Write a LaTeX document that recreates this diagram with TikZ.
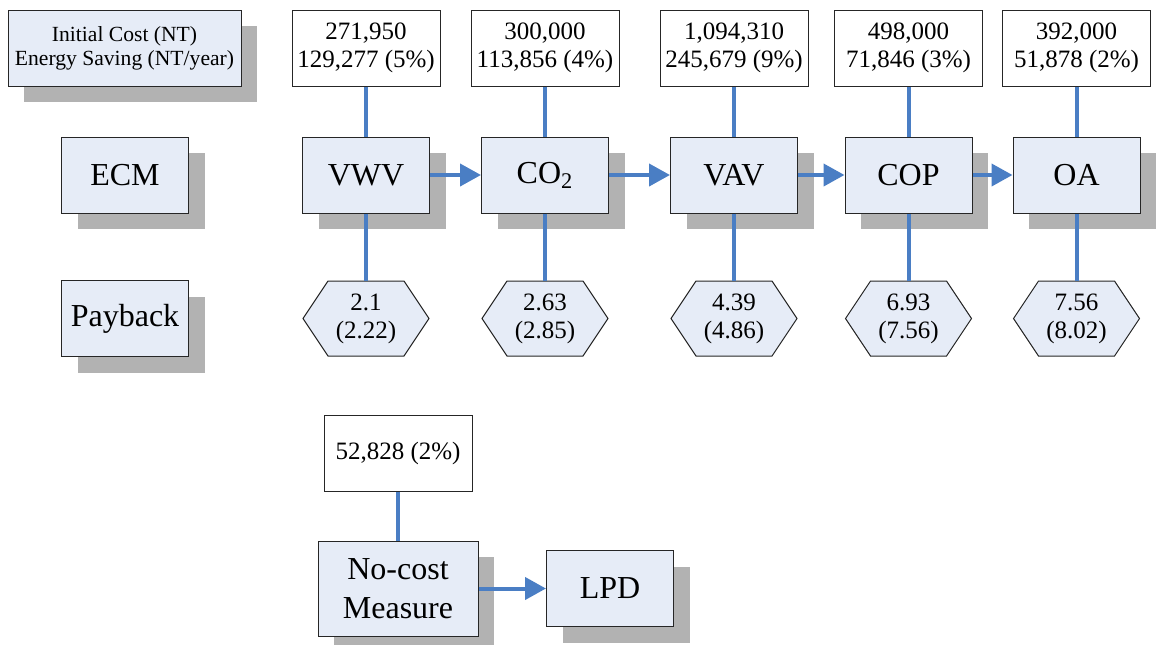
\documentclass[tikz,border=0pt]{standalone}
\usepackage{fontspec}
\setmainfont{Liberation Serif}
\usetikzlibrary{arrows.meta,shadows,calc}
\definecolor{boxfill}{RGB}{230,236,247}
\definecolor{shgray}{RGB}{178,178,178}
\definecolor{linkblue}{RGB}{74,126,196}
\begin{document}
\begin{tikzpicture}[x=0.5pt,y=-0.5pt,
  shbox/.style={draw=black!85,line width=0.5pt,fill=boxfill,inner sep=0pt,align=center,
    drop shadow={shadow xshift=8pt,shadow yshift=-8pt,fill=shgray,draw=none,opacity=1}},
  bigbox/.style={shbox,minimum width=63.5pt,minimum height=38pt,font=\fontsize{16}{19.5}\selectfont},
  numbox/.style={draw=black!85,line width=0.5pt,fill=white,inner sep=0pt,align=center,
    minimum width=74pt,minimum height=38pt,font=\fontsize{12.5}{14}\selectfont},
  hexlabel/.style={inner sep=0pt,align=center,font=\fontsize{12.5}{14}\selectfont},
  hexshape/.style={draw=black!85,line width=0.5pt,fill=boxfill},
  link/.style={draw=linkblue,line width=2pt},
  flow/.style={link,-{Triangle[length=10.5pt,width=11pt]}}
]
\useasboundingbox (0,0) rectangle (1156,644);

% header column
\node[shbox,minimum width=116.5pt,minimum height=38pt,font=\fontsize{10.8}{12}\selectfont] (hdr) at (124.5,48) {Initial Cost (NT)\\Energy Saving (NT/year)};
\node[bigbox] (ecm) at (125,175) {ECM};
\node[bigbox] (pay) at (125,318.5) {Payback};

% columns
\foreach \i/\x/\cost/\save/\name/\pa/\pb in {
  1/366/{271,950}/{129,277 (5\%)}/VWV/2.1/(2.22),
  2/545/{300,000}/{113,856 (4\%)}/{CO\textsubscript{2}}/2.63/(2.85),
  3/734/{1,094,310}/{245,679 (9\%)}/VAV/4.39/(4.86),
  4/908.5/{498,000}/{71,846 (3\%)}/COP/6.93/(7.56),
  5/1076.5/{392,000}/{51,878 (2\%)}/OA/7.56/(8.02)} {
  \node[numbox] (t\i) at (\x,48) {\cost\\\save};
  \node[bigbox] (e\i) at (\x,175) {\name};
  \draw[hexshape] (\x-63,318.5) -- (\x-38,281) -- (\x+38,281) -- (\x+63,318.5)
     -- (\x+38,356) -- (\x-38,356) -- cycle;
  \node[hexlabel] (p\i) at (\x,318.5) {\pa\\\pb};
  \draw[link] (t\i.south) -- (e\i.north);
  \draw[link] (e\i.south) -- (\x,281);
}
\foreach \a/\b in {1/2,2/3,3/4,4/5} {
  \draw[flow] (e\a.east) -- (e\b.west);
}

% bottom part
\node[numbox] (nc) at (398,453) {52,828 (2\%)};
\node[shbox,minimum width=80pt,minimum height=47.5pt,font=\fontsize{16}{19.5}\selectfont] (noc) at (398,588.5) {No-cost\\Measure};
\node[bigbox] (lpd) at (610,588.5) {LPD};
\draw[link] (nc.south) -- (noc.north);
\draw[flow] (noc.east) -- (lpd.west);
\end{tikzpicture}
\end{document}
